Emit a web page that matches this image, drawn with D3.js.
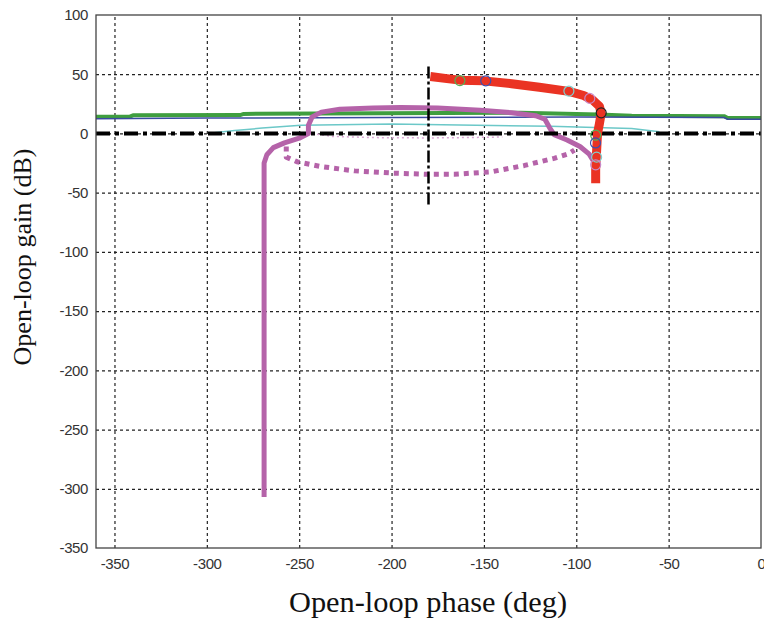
<!DOCTYPE html>
<html>
<head>
<meta charset="utf-8">
<script src="https://cdn.jsdelivr.net/npm/d3@7"></script>
<style>
  body { margin: 0; background: #fff; }
  .tick text { font-family: "Liberation Sans", Arial, sans-serif; font-size: 15px; fill: #333; letter-spacing: -0.4px; }
  .axis-label { font-family: "Liberation Serif", "Times New Roman", serif; fill: #111; }
</style>
</head>
<body>
<svg width="764" height="631"></svg>
<script>
// tick labels
const xTicks = [-350, -300, -250, -200, -150, -100, -50, 0];
const yTicks = [100, 50, 0, -50, -100, -150, -200, -250, -300, -350];

// series, [phase (deg), gain (dB)]
const greenLine = [[-360, 14], [-342, 14], [-340, 15.3], [-282, 15.5], [-280, 16.5], [-240, 16.8], [-130, 17.5],
  [-100, 16.5], [-88, 16], [-70, 15], [-20, 14.6], [-18, 13], [0, 13]];
const blueLine = [[-360, 12.5], [-300, 13], [-200, 13.5], [-100, 13.8], [-20, 13.5], [-18, 12], [0, 12]];
const cyanLine = [[-296, 0.5], [-285, 2.5], [-270, 4.5], [-249, 7], [-200, 8], [-114, 6], [-90, 5], [-70, 4.2], [-55, 1.5]];
const zeroLine = [[-360, 0], [0, 0]];
const marginLine = [[-180, -60], [-180, 58]];
const purpleSolid = [[-269, -307], [-269, -25], [-267.5, -18], [-264, -12], [-258, -8], [-250, -4], [-245, 0],
  [-245, 7], [-243, 14], [-238, 18], [-228, 20.5], [-210, 21.5], [-195, 22], [-175, 21.5], [-152, 19.5],
  [-135, 17.5], [-122, 15], [-117, 12], [-114.5, 5], [-112, -1], [-105, -5.5], [-98, -11], [-93, -17.5], [-90, -25]];
const purpleDotted = [[-257, -11], [-257, -20], [-251, -24], [-238, -28], [-220, -31.6], [-199, -33.5], [-180, -34.5],
  [-166, -34.5], [-146, -32.4], [-128, -27], [-112, -21], [-104, -17], [-101, -14]];
const purpleThin = [[-243, 0], [-232, -2.5], [-210, -3.5], [-180, -3.8], [-160, -3.5], [-140, -3]];
const redLine = [[-179, 48], [-170, 46.3], [-163, 45], [-150, 44.4], [-135, 42], [-120, 39], [-104, 35.5],
  [-96, 32], [-91, 28], [-87.5, 23], [-86.5, 17], [-87.5, 8], [-88.5, 0], [-89, -15], [-89.5, -30], [-89.5, -42]];
const redMarkers = [
  {p: -163, g: 44.6, c: "#55b055"}, {p: -149, g: 44.4, c: "#3b4fb0"}, {p: -104, g: 35.8, c: "#7fd0d0"},
  {p: -92.7, g: 29.6, c: "#c888c8"}, {p: -86.5, g: 17.4, c: "#222"}, {p: -89.5, g: -1.5, c: "#55b055"},
  {p: -89.6, g: -8, c: "#3b4fb0"}, {p: -89, g: -20, c: "#7fd0d0"}, {p: -89.5, g: -26.5, c: "#c888c8"}
];

let svg = d3.select("svg"),
    margin = {top: 15, bottom: 83, left: 96, right: 3},
    width = svg.attr("width") - margin.left - margin.right,
    height = svg.attr("height") - margin.top - margin.bottom;

let g = svg.append("g")
    .attr("transform", "translate(" + margin.left + "," + margin.top + ")");

let xScale = d3.scaleLinear().domain([-360, 0]).range([0, width]);
let yScale = d3.scaleLinear().domain([-350, 100]).range([height, 0]);

// grid
g.append("g")
    .attr("class", "grid")
    .attr("transform", "translate(0," + height + ")")
    .call(d3.axisBottom(xScale).tickValues(xTicks.slice(0, -1)).tickSize(-height).tickFormat(""))
    .call(s => s.select(".domain").remove());
g.append("g")
    .attr("class", "grid")
    .call(d3.axisLeft(yScale).tickValues(yTicks.slice(1, -1)).tickSize(-width).tickFormat(""))
    .call(s => s.select(".domain").remove());
g.selectAll(".grid line")
    .attr("stroke", "#222")
    .attr("stroke-width", 1.2)
    .attr("stroke-dasharray", "3,3");

// tick labels, plain hyphen like the original
g.append("g")
    .attr("transform", "translate(0," + height + ")")
    .call(d3.axisBottom(xScale).tickValues(xTicks).tickSize(0).tickPadding(10).tickFormat(d => String(d)))
    .call(s => s.select(".domain").remove());
g.append("g")
    .call(d3.axisLeft(yScale).tickValues(yTicks).tickSize(0).tickPadding(8).tickFormat(d => String(d)))
    .call(s => s.select(".domain").remove());

let line = d3.line()
    .x(d => xScale(d[0]))
    .y(d => yScale(d[1]));

const drawLine = (data, color, w, dash) => {
    g.append("path")
        .datum(data)
        .attr("fill", "none")
        .attr("stroke", color)
        .attr("stroke-width", w)
        .attr("stroke-dasharray", dash || null)
        .attr("stroke-linejoin", "round")
        .attr("d", line);
};

drawLine(greenLine, "#3f9e3f", 4);
drawLine(blueLine, "#3a4aa0", 1.5);
drawLine(cyanLine, "#6cc8c8", 1.5);
drawLine(purpleThin, "#d9a6d3", 1.5, "2,3");
drawLine(purpleDotted, "#b563a9", 5, "5,5");
drawLine(purpleSolid, "#b563a9", 5);
drawLine(zeroLine, "#000", 4, "14,5,4,5");
drawLine(marginLine, "#000", 2.5, "12,3,3,3");
drawLine(redLine, "#ea3323", 9);

g.selectAll("circle.mk")
    .data(redMarkers)
    .join("circle")
    .attr("class", "mk")
    .attr("cx", d => xScale(d.p))
    .attr("cy", d => yScale(d.g))
    .attr("r", 5)
    .attr("fill", "none")
    .attr("stroke", d => d.c)
    .attr("stroke-width", 1.2);

// frame
g.append("rect")
    .attr("width", width)
    .attr("height", height)
    .attr("fill", "none")
    .attr("stroke", "#444")
    .attr("stroke-width", 1.3);

// titles
svg.append("text")
    .attr("class", "axis-label")
    .attr("x", 428)
    .attr("y", 612)
    .attr("font-size", 29)
    .attr("text-anchor", "middle")
    .attr("textLength", 278)
    .attr("lengthAdjust", "spacingAndGlyphs")
    .text("Open-loop phase (deg)");
svg.append("text")
    .attr("class", "axis-label")
    .attr("transform", "translate(31,257) rotate(-90)")
    .attr("font-size", 26)
    .attr("text-anchor", "middle")
    .attr("textLength", 217)
    .attr("lengthAdjust", "spacingAndGlyphs")
    .text("Open-loop gain (dB)");
</script>
</body>
</html>
